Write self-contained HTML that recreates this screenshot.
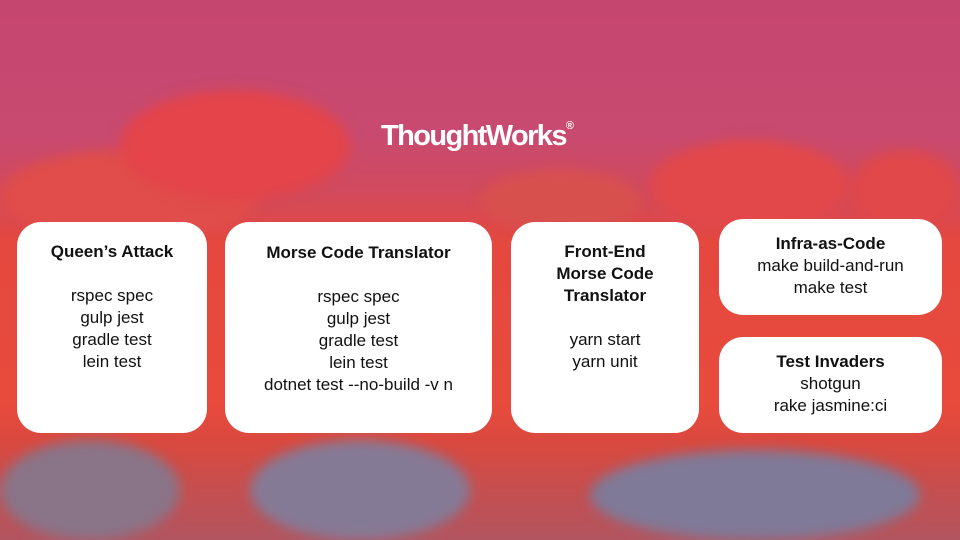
<!DOCTYPE html>
<html><head><meta charset="utf-8"><style>
*{margin:0;padding:0;box-sizing:border-box}
body{width:960px;height:540px;overflow:hidden;position:relative;font-family:"Liberation Sans",sans-serif;
background:linear-gradient(180deg,#c5466f 0%,#c84a70 25%,#d24a5c 36%,#e5483e 45%,#e84a3c 75%,#d9493f 82%,#b25560 100%);}
.blob{position:absolute;border-radius:50%;filter:blur(6px)}
.card{position:absolute;background:#fff;border-radius:24px;text-align:center;color:#111;font-size:17px;line-height:22px}
.card b{font-weight:bold}
.logo{position:absolute;left:381px;top:120px;color:#fff;font-weight:bold;font-size:29px;letter-spacing:-1.6px}
</style></head><body>
<div class="blob" style="left:0;top:150px;width:260px;height:90px;background:#e04d4a"></div>
<div class="blob" style="left:120px;top:90px;width:230px;height:110px;background:#e4444a"></div>
<div class="blob" style="left:650px;top:140px;width:200px;height:90px;background:#e2484a"></div>
<div class="blob" style="left:480px;top:170px;width:160px;height:60px;background:#d8504e"></div>
<div class="blob" style="left:0;top:440px;width:180px;height:100px;background:#8a7488"></div>
<div class="blob" style="left:250px;top:440px;width:220px;height:100px;background:#857a96"></div>
<div class="blob" style="left:590px;top:450px;width:330px;height:90px;background:#7f7a98"></div>
<div class="blob" style="left:850px;top:150px;width:110px;height:80px;background:#e0484a"></div>
<div class="logo">ThoughtWorks<span style="font-size:11px;vertical-align:top;letter-spacing:0">®</span></div>
<div class="card" style="left:17px;top:222px;width:190px;height:211px;padding-top:19px"><b>Queen’s Attack</b><br><br>rspec spec<br>gulp jest<br>gradle test<br>lein test</div>
<div class="card" style="left:225px;top:222px;width:267px;height:211px;padding-top:20px"><b>Morse Code Translator</b><br><br>rspec spec<br>gulp jest<br>gradle test<br>lein test<br>dotnet test --no-build -v n</div>
<div class="card" style="left:511px;top:222px;width:188px;height:211px;padding-top:19px"><b>Front-End<br>Morse Code<br>Translator</b><br><br>yarn start<br>yarn unit</div>
<div class="card" style="left:719px;top:219px;width:223px;height:96px;padding-top:14px"><b>Infra-as-Code</b><br>make build-and-run<br>make test</div>
<div class="card" style="left:719px;top:337px;width:223px;height:96px;padding-top:14px"><b>Test Invaders</b><br>shotgun<br>rake jasmine:ci</div>
</body></html>
